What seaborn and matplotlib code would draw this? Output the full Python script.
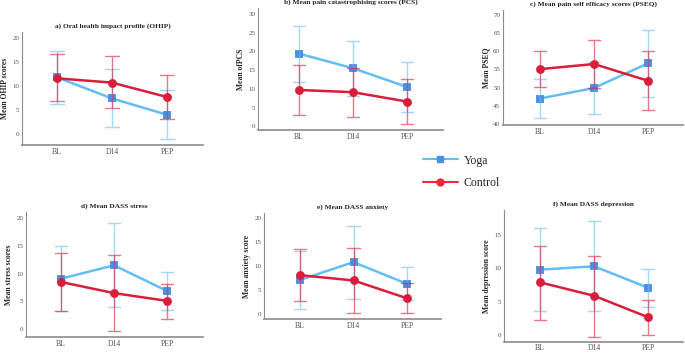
import numpy as np
import pandas as pd
import matplotlib
matplotlib.use("Agg")
import matplotlib.pyplot as plt
from matplotlib.lines import Line2D
import seaborn as sns

sns.set_style("white")
plt.rcParams['font.family'] = ['Liberation Serif', 'DejaVu Serif']

times = ["BL", "D14", "PEP"]
groups = ["Yoga", "Control"]

# means and 95% CI (lower, upper)
ohip_yoga = [11.8, 7.4, 4.0]
ohip_yoga_ci = [(6.3, 17.3), (1.4, 13.5), (-1.0, 9.1)]
ohip_ctrl = [11.6, 10.7, 7.7]
ohip_ctrl_ci = [(6.8, 16.6), (5.4, 16.3), (3.2, 12.2)]

pcs_yoga = [19.4, 15.5, 10.5]
pcs_yoga_ci = [(11.8, 26.8), (8.2, 22.8), (3.8, 17.2)]
pcs_ctrl = [9.7, 9.1, 6.6]
pcs_ctrl_ci = [(3.0, 16.4), (2.6, 15.6), (0.6, 12.5)]

pseq_yoga = [47.0, 49.9, 56.7]
pseq_yoga_ci = [(41.7, 52.3), (42.8, 57.2), (47.4, 66.0)]
pseq_ctrl = [55.1, 56.5, 51.9]
pseq_ctrl_ci = [(50.2, 60.0), (49.8, 63.2), (43.7, 60.1)]

stress_yoga = [9.1, 11.5, 6.9]
stress_yoga_ci = [(3.3, 14.9), (4.0, 19.1), (3.4, 10.3)]
stress_ctrl = [8.5, 6.5, 5.1]
stress_ctrl_ci = [(3.2, 13.7), (-0.3, 13.3), (1.9, 8.2)]

anx_yoga = [7.1, 10.8, 6.3]
anx_yoga_ci = [(1.1, 13.1), (3.2, 18.4), (2.9, 9.8)]
anx_ctrl = [8.1, 7.0, 3.3]
anx_ctrl_ci = [(2.7, 13.5), (0.3, 13.8), (0.2, 6.4)]

dep_yoga = [9.8, 10.3, 7.1]
dep_yoga_ci = [(3.6, 16.0), (3.6, 17.0), (4.2, 9.9)]
dep_ctrl = [7.9, 5.9, 2.7]
dep_ctrl_ci = [(2.3, 13.4), (-0.2, 11.9), (0.1, 5.3)]

line_cols = {"Yoga": "#64bef5", "Control": "#d81e3b"}
marker_cols = {"Yoga": "#4b8fe2", "Control": "#d81e3b"}


def long_df(yoga, yoga_ci, ctrl, ctrl_ci):
    rows = []
    for g, m, ci in [("Yoga", yoga, yoga_ci), ("Control", ctrl, ctrl_ci)]:
        for t, mu, (lo, hi) in zip(times, m, ci):
            for v in (lo, mu, hi):
                rows.append({"time": t, "group": g, "value": v})
    return pd.DataFrame(rows)


# panel boxes in pixels: left, right, top, bottom, first tick x, last tick x
panels = [
    ("a) Oral health impact profile (OHIP)", "Mean OHIP scores",
     ohip_yoga, ohip_yoga_ci, ohip_ctrl, ohip_ctrl_ci,
     (22, 203, 32, 145, 57, 167), (-2.3, 21.25), [0, 5, 10, 15, 20]),
    ("b) Mean pain catastrophising scores (PCS)", "Mean ofPCS",
     pcs_yoga, pcs_yoga_ci, pcs_ctrl, pcs_ctrl_ci,
     (258, 443, 8, 130, 299, 407), (-1, 31.6), [0, 5, 10, 15, 20, 25, 30]),
    ("c) Mean pain self efficacy scores (PSEQ)", "Mean PSEQ",
     pseq_yoga, pseq_yoga_ci, pseq_ctrl, pseq_ctrl_ci,
     (503, 683, 10, 125, 540, 648), (39.7, 71.4), [40, 45, 50, 55, 60, 65, 70]),
    ("d) Mean DASS stress", "Mean stress scores",
     stress_yoga, stress_yoga_ci, stress_ctrl, stress_ctrl_ci,
     (26, 203, 212, 337, 61, 167), (-1.4, 21.1), [0, 5, 10, 15, 20]),
    ("e) Mean DASS anxiety", "Mean anxiety score",
     anx_yoga, anx_yoga_ci, anx_ctrl, anx_ctrl_ci,
     (264, 441, 213, 319, 300, 407), (-1, 21), [0, 5, 10, 15, 20]),
    ("f) Mean DASS depression", "Mean depression score",
     dep_yoga, dep_yoga_ci, dep_ctrl, dep_ctrl_ci,
     (504, 683, 210, 342, 540, 648), (-1, 18.7), [0, 5, 10, 15]),
]

W, H = 685, 353
fig = plt.figure(figsize=(W / 100, H / 100), dpi=100)

for title, ylab, yv, yci, cv, cci, box, ylim, yticks in panels:
    left, right, top, bottom, t0, t2 = box
    ax = fig.add_axes([left / W, 1 - bottom / H, (right - left) / W, (bottom - top) / H])
    df = long_df(yv, yci, cv, cci)
    sns.pointplot(data=df, x="time", y="value", hue="group", order=times,
                  hue_order=groups, estimator=np.median,
                  errorbar=lambda v: (v.min(), v.max()),
                  palette=line_cols, markers=["s", "o"], linestyles="-",
                  capsize=0.24, markersize=5, linewidth=1.8,
                  err_kws={"linewidth": 1.0, "alpha": 0.6},
                  legend=False, ax=ax)
    for ln in ax.lines:
        if ln.get_marker() == "s":
            ln.set_markerfacecolor(marker_cols["Yoga"])
            ln.set_markeredgecolor(marker_cols["Yoga"])
    sp = (t2 - t0) / 2
    ax.set_xlim(-(t0 - left) / sp, 2 + (right - t2) / sp)
    ax.set_ylim(*ylim)
    ax.set_yticks(yticks)
    ax.set_xlabel("")
    ax.set_ylabel(ylab, fontsize=5.5, fontweight="bold", labelpad=2)
    ax.set_title(title, fontsize=5.3, fontweight="bold", pad=3)
    ax.tick_params(axis="both", length=0, colors="#555555", labelsize=5, pad=2)
    ax.tick_params(axis="x", labelsize=5.5, pad=1.5 if bottom > 340 else 2.5)
    for s in ["top", "right"]:
        ax.spines[s].set_visible(False)
    ax.spines["left"].set_color("#8c8c8c")
    ax.spines["left"].set_linewidth(0.8)
    ax.spines["bottom"].set_color("#8c8c8c")
    ax.spines["bottom"].set_linewidth(1.2)

handles = [
    Line2D([], [], color=line_cols["Yoga"], marker="s", markersize=5,
           markerfacecolor=marker_cols["Yoga"], markeredgecolor=marker_cols["Yoga"], linewidth=1.5),
    Line2D([], [], color="#ee2a3a", marker="o", markersize=5, linewidth=1.5),
]
fig.legend(handles, groups, loc="upper left", bbox_to_anchor=(412 / W, 1 - 144 / H),
           frameon=False, fontsize=8.5, handlelength=3.0, labelspacing=0.9,
           handletextpad=0.5)

fig.savefig("out.png", dpi=100)
